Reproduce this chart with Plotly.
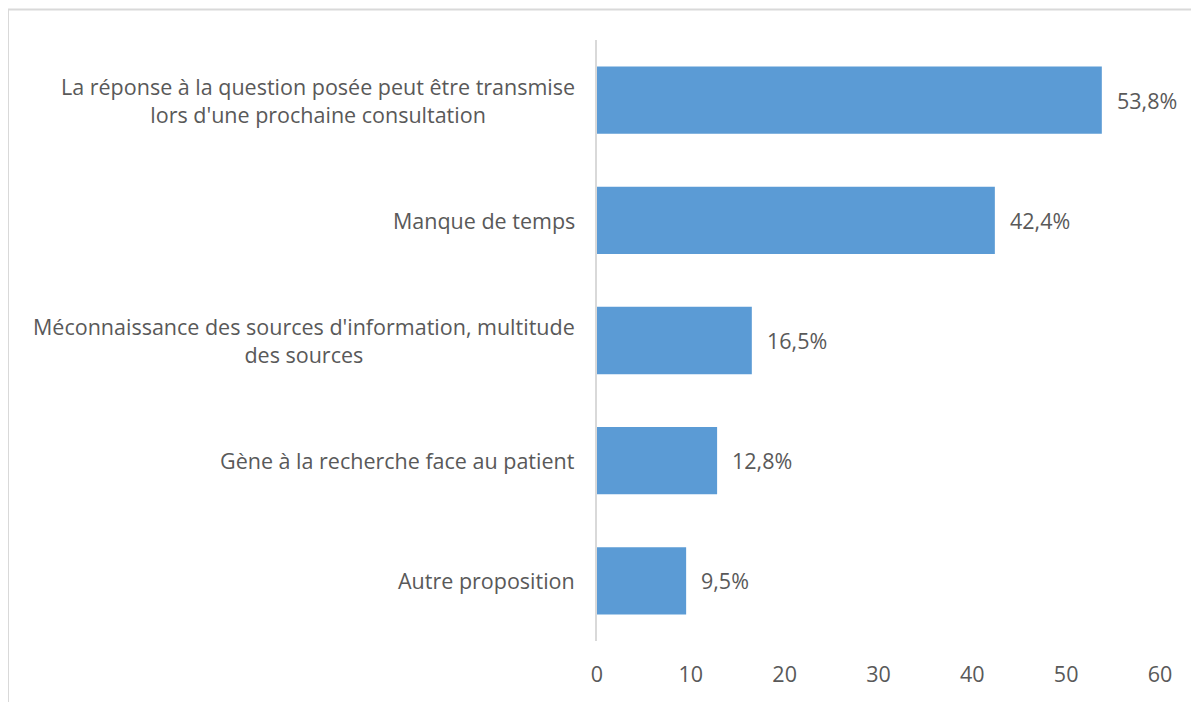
import plotly.graph_objects as go

categories = [
    "La réponse à la question posée peut être transmise<br>lors d'une prochaine consultation",
    "Manque de temps",
    "Méconnaissance des sources d'information, multitude<br>des sources",
    "Gène à la recherche face au patient",
    "Autre proposition",
]
values = [53.8, 42.4, 16.5, 12.8, 9.5]
tick_vals = [0, 10, 20, 30, 40, 50, 60]

FONT = "Open Sans"
FS = 21.5
GRAY = "#595959"
OFF = 8  # default page body margin
W, H = 1199 - OFF, 702 - OFF
# target page pixel positions of the plot area
PX_L, PX_R, PX_T, PX_B = 597, 1160, 40, 641
ML, MT = PX_L - OFF, PX_T - OFF
MR, MB = W - (PX_R - OFF), H - (PX_B - OFF)
pw, ph = PX_R - PX_L, PX_B - PX_T

fig = go.Figure(go.Bar(
    x=values, y=categories, orientation="h",
    marker=dict(color="#5b9bd5", line=dict(width=0)),
    width=0.56, hoverinfo="skip",
))

annotations = []
for c, v in zip(categories, values):
    annotations.append(dict(
        x=0, xref="paper", y=c, yref="y", text=c, showarrow=False,
        xanchor="right", align="center", xshift=-20,
        font=dict(family=FONT, size=FS, color=GRAY),
    ))
    annotations.append(dict(
        x=v, xref="x", y=c, yref="y", text=f"{v:.1f}%".replace(".", ","),
        showarrow=False, xanchor="left", xshift=13,
        font=dict(family=FONT, size=FS, color=GRAY),
    ))

def px_x(p):
    return (p - PX_L) / pw

def px_y(p):
    return (PX_B - p) / ph

fig.update_layout(
    width=W, height=H,
    margin=dict(l=ML, r=MR, t=MT, b=MB),
    paper_bgcolor="white", plot_bgcolor="white",
    showlegend=False,
    annotations=annotations,
    shapes=[
        dict(type="line", xref="paper", yref="paper", x0=px_x(8), x1=px_x(1210), y0=px_y(9.5), y1=px_y(9.5),
             line=dict(color="#d9d9d9", width=2)),
        dict(type="line", xref="paper", yref="paper", x0=px_x(8), x1=px_x(8), y0=px_y(9.5), y1=px_y(710),
             line=dict(color="#d9d9d9", width=2)),
    ],
    xaxis=dict(range=[0, 60], tickvals=tick_vals, showgrid=False, zeroline=False,
               showline=False, ticks="", tickfont=dict(family=FONT, size=FS, color=GRAY),
               ticklabelstandoff=18, fixedrange=True),
    yaxis=dict(autorange="reversed", showticklabels=False, showgrid=False, zeroline=False,
               showline=True, linecolor="#d9d9d9", linewidth=2, ticks="", fixedrange=True),
)

fig.write_html("out.html")
